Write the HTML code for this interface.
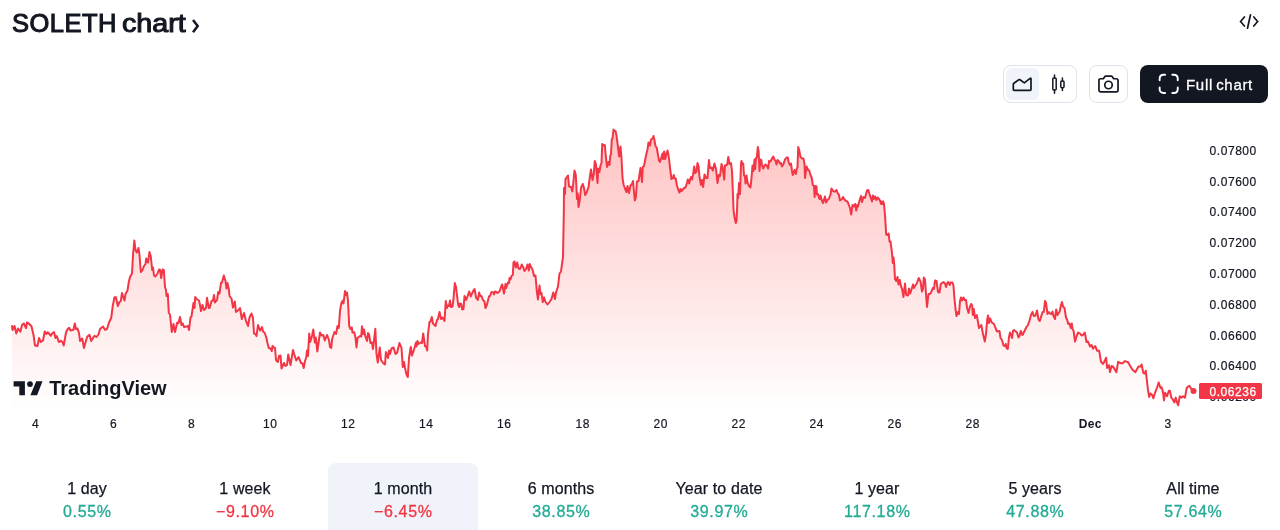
<!DOCTYPE html>
<html><head><meta charset="utf-8"><title>SOLETH chart</title>
<style>
*{box-sizing:border-box;margin:0;padding:0}
html,body{width:1280px;height:530px;background:#fff;overflow:hidden}
body{position:relative;font-family:"Liberation Sans",sans-serif;color:#131722}
.title{position:absolute;top:5.8px;will-change:transform;font-size:25.5px;font-weight:400;line-height:34px;white-space:nowrap;color:#131722;-webkit-text-stroke:1.05px #131722}
.title .t1{letter-spacing:-0.95px}
.chev{position:absolute;left:188px;top:17px}
.code{position:absolute;left:1237px;top:11px}
.grp{position:absolute;left:1003.2px;top:64.9px;width:73.9px;height:38.2px;border:1px solid #e0e3eb;border-radius:8px;background:#fff}
.grp .on{position:absolute;left:2px;top:2px;width:32.5px;height:32px;border-radius:6px;background:#f0f3fa}
.cam{position:absolute;left:1089.2px;top:64.9px;width:38.7px;height:38.3px;border:1px solid #e0e3eb;border-radius:8px;background:#fff}
.full{position:absolute;left:1139.6px;top:64.9px;width:128.7px;height:38.1px;border-radius:8px;background:#131722;color:#fff;font-size:16px;line-height:38px;white-space:nowrap}
.full span{position:absolute;left:46.6px;top:1.1px;font-size:15px;letter-spacing:0.7px;word-spacing:-1.7px;-webkit-text-stroke:0.3px #fff;will-change:transform}
svg{position:absolute;left:0;top:0;overflow:visible}
.yl{position:absolute;left:1209.6px;width:48px;height:16px;line-height:16px;font-size:12px;letter-spacing:0.55px;color:#131722;white-space:nowrap;-webkit-text-stroke:0.2px #131722}
.plab{position:absolute;left:1199.2px;top:382.9px;width:62.9px;height:16.1px;-webkit-text-stroke:0.25px #fff;border-radius:1.5px;background:#f23645;color:#fff;font-size:12px;line-height:18.2px;overflow:hidden;letter-spacing:0.55px;padding-left:10.3px;white-space:nowrap}
.xl{position:absolute;top:416px;width:60px;text-align:center;font-size:12px;line-height:16px;letter-spacing:0.7px;color:#131722;-webkit-text-stroke:0.2px #131722}
.xl.b{font-weight:700;letter-spacing:0.4px;-webkit-text-stroke:0}
.tvtxt{position:absolute;left:49.2px;top:376.4px;font-size:20px;font-weight:700;line-height:24px;letter-spacing:0px;color:#131722;white-space:nowrap}
.cell{position:absolute;top:463px;width:150px;height:80px;border-radius:8px;text-align:center}
.cell.sel{background:#f0f3fa}
.rn{position:absolute;left:0;right:0;top:14.6px;-webkit-text-stroke:0.25px #131722;font-size:16px;line-height:22px;letter-spacing:0.1px;color:#131722;white-space:nowrap}
.rv{position:absolute;left:0;right:0;top:38.4px;font-size:16px;line-height:22px;letter-spacing:0.65px;padding-left:0.6px;-webkit-text-stroke:0.3px currentColor;white-space:nowrap}
.g{color:#22ab94}.r{color:#f23645}
</style></head><body>
<div class="title" style="left:11.9px;letter-spacing:0.5px">SOLETH</div><div class="title" style="left:122.4px;transform:scaleX(1.125);transform-origin:0 0">chart</div>
<svg class="chev" width="14" height="18" viewBox="0 0 14 18"><path d="M5.0 2.9 L9.7 9.1 L5.0 15.3" fill="none" stroke="#131722" stroke-width="2.5"/></svg>
<svg class="code" width="24" height="22" viewBox="0 0 24 22"><path d="M7.4 6 L3.6 10.5 L7.4 15 M16.8 6 L20.6 10.5 L16.8 15 M13.5 3.8 L10.5 17.2" fill="none" stroke="#131722" stroke-width="1.7" stroke-linecap="round" stroke-linejoin="miter"/></svg>

<div class="grp"><div class="on"></div></div>
<svg width="28" height="28" viewBox="0 0 28 28" style="left:1008px;top:70px"><path d="M5.3 19.4 L5.3 14.4 Q5.3 13.6 5.9 13.2 L10.8 9.8 Q11.4 9.4 12 9.8 L16.3 12.9 L22.1 8.4 Q23 7.8 23 8.9 L23 19.4 Q23 20.3 22.1 20.3 L6.2 20.3 Q5.3 20.3 5.3 19.4 Z" fill="none" stroke="#131722" stroke-width="1.7" stroke-linejoin="round"/></svg>
<svg width="28" height="28" viewBox="0 0 28 28" style="left:1044px;top:70px"><g fill="none" stroke="#131722" stroke-width="1.5" stroke-linecap="round"><rect x="8.8" y="8" width="3.4" height="12" rx="1"/><path d="M10.5 5V8M10.5 20V23.2"/><rect x="16.8" y="11" width="3.2" height="6.8" rx="1"/><path d="M18.4 8V11M18.4 17.8V20.4"/></g></svg>
<div class="cam"></div>
<svg width="28" height="28" viewBox="0 0 28 28" style="left:1094px;top:70px"><g fill="none" stroke="#131722" stroke-width="1.7" stroke-linejoin="round"><path d="M4.95 10.5 Q4.95 8.75 6.7 8.75 L9.3 8.75 L10.7 6.7 Q11.1 6.15 11.8 6.15 L17.2 6.15 Q17.9 6.15 18.3 6.7 L19.7 8.75 L22.3 8.75 Q24.05 8.75 24.05 10.5 L24.05 20.1 Q24.05 21.85 22.3 21.85 L6.7 21.85 Q4.95 21.85 4.95 20.1 Z"/><circle cx="14.5" cy="15" r="3.75"/></g></svg>
<div class="full"><span>Full chart</span></div>
<svg width="28" height="28" viewBox="0 0 28 28" style="left:1154px;top:70px"><path d="M5.65 10.2 V8.75 Q5.65 4.75 9.65 4.75 H11.1 M18.3 4.75 H19.75 Q23.75 4.75 23.75 8.75 V10.2 M23.75 17.5 V18.95 Q23.75 22.95 19.75 22.95 H18.3 M11.1 22.95 H9.65 Q5.65 22.95 5.65 18.95 V17.5" fill="none" stroke="#fff" stroke-width="1.9" stroke-linecap="round"/></svg>

<svg width="1280" height="530" viewBox="0 0 1280 530">
<defs><linearGradient id="gr" gradientUnits="userSpaceOnUse" x1="0" y1="120" x2="0" y2="412"><stop offset="0" stop-color="#ff3b3b" stop-opacity="0.32"/><stop offset="1" stop-color="#ff3b3b" stop-opacity="0"/></linearGradient></defs>
<path d="M12 326 L12.5 330 L14.5 326 L16.3 333.5 L18 328.5 L20.3 331.8 L22.2 324.5 L23.8 323.5 L26 328 L27 322.5 L28.5 323.2 L31.5 326.2 L33.5 335 L35 345.5 L37.5 346 L39 338 L40.8 342 L43 340.5 L44.8 331.5 L46.5 334 L47.8 332.2 L50.8 335.8 L52 333.5 L54 332 L55.5 338 L56.8 336 L58.8 342 L61 340.8 L62.5 342 L63.7 345.5 L66 332.5 L68 328.5 L69.2 327.8 L70.5 330.5 L73.5 329.8 L74.8 323.5 L76 329 L77.5 328.5 L79 333 L80 341 L82.2 338.5 L84 348 L85.5 342.5 L87.2 336.8 L89.5 334.8 L91.2 341 L93 338 L94.5 335.8 L96.5 337 L98.5 334.5 L100 329 L103 326.5 L105 329.8 L107 329 L109 322.5 L111.2 318 L112.8 305.5 L114.5 297.2 L116 297.2 L117.8 306 L119.5 302 L120.8 301 L122 293 L123.2 297 L124.5 300.5 L125.5 294 L127.5 290.5 L128.8 282 L130 277 L132 273.5 L133 255 L134.3 240.5 L135.5 250 L136.8 252.5 L138.5 248 L139.5 255 L140.8 272 L142.5 270 L144 266 L145.5 264 L146.2 258.5 L148 262.5 L149.5 252 L150.8 256.5 L152.2 270 L153 267.5 L154 275.5 L155.5 276.5 L157.5 273.5 L159 269.5 L160 270 L161.2 278 L162.5 269.5 L163.8 270 L165 287 L166 290 L166.5 296 L167.8 294 L168.8 313 L170 314.5 L171.8 332 L173.5 324 L175 332 L177.2 322.5 L178.5 323 L180 317 L181.5 325 L182.8 323.5 L184 327 L186.5 326.5 L188 326 L189 330 L190.5 317.5 L191.5 316.5 L193.5 303 L194.5 308 L195.2 297 L197.2 299.5 L199 300.5 L200 305 L201 311 L202.5 305 L204 310 L206 308 L207 297.8 L208.8 308 L209.8 307.5 L211.5 301 L213 300.5 L214 295 L215 302.5 L217 300 L218.2 292 L219.5 293.5 L221 283 L222 282.5 L223.8 275.5 L225.5 281 L226.5 288.5 L227.5 283 L229 290 L229.5 296 L231.5 298.5 L233 307.5 L234.8 301.5 L236 312 L238.5 310 L240 308 L241.8 319 L244 313 L246 321 L248 326 L249.5 317.5 L251.5 313.5 L253 318 L254 333.5 L255.5 334 L256.5 336 L258 325 L260 330.5 L262 327 L263 331.5 L264.5 332.5 L266.2 337 L267.5 343 L268.8 348 L270.5 348.5 L271.8 351 L272.5 346 L274 347.5 L275 348 L276 360 L277.8 362 L279 356 L280.5 355.5 L281.5 368.5 L284 363 L285.5 366 L287 365 L288.2 354.5 L290.5 365 L293 350 L294.5 355 L296.2 360.5 L298.5 357 L301 363 L302.5 363.5 L303.7 368 L305 361 L306.2 357.5 L307 350.5 L308 356 L309.2 333.5 L310.2 342 L312 336 L313.3 329.5 L314.8 342.5 L315.8 337.5 L317.3 351.5 L318.5 343 L320 332.5 L321.5 335.5 L323.3 335 L324.8 340.5 L327 335 L329 340 L330 347 L331.3 348 L332.2 338.5 L334.5 332 L336 334 L337.5 326 L338.8 328 L340 311 L341.5 302.5 L342.8 300.5 L343.5 303.5 L345 291 L345.8 295 L347 292.5 L348 301 L349.2 326 L350.5 329 L351.8 327.5 L352.5 332.5 L354.2 332.3 L355.5 337.5 L356.5 347.5 L357.5 338 L360 336 L361.2 336.5 L362 326.3 L363 334 L364 329.5 L365.3 336 L367 341 L368 333 L369 334.5 L370.5 343 L372 342.5 L373 349 L374 340.5 L375.3 328.8 L376.5 354 L377.8 362.5 L379.8 347.5 L381 360 L383.5 363.5 L385 364.5 L385.9 352 L388 358 L389 350.5 L390 354 L391.5 348.5 L393.5 347.5 L395.5 354 L397 353 L399.5 343 L401.5 348 L402.8 367 L404 362 L405 368 L406.5 374.5 L407.8 377 L409 358 L410.8 347 L412 355.5 L414 349.5 L416 342.5 L416.5 346.5 L417.5 341 L418.5 344 L420.5 342.5 L422 343 L423.2 333.5 L425 346 L426 346.5 L427.2 350.5 L428 334 L429.5 322 L430.5 321.5 L431.8 317 L433 323.5 L435.5 326 L437 320 L438 319 L439.5 312 L441 319 L442.5 317.5 L444.5 321 L445.8 301 L446.8 308 L448 305.5 L449 306 L450 300.5 L451 307 L452.5 306.5 L453.5 299 L454.8 283 L456 287 L457.2 297 L458.2 305 L459.2 307 L460 303.5 L461.2 304 L462.2 309.5 L463.5 309 L464.5 296 L466.2 300 L467.8 295.5 L469.2 291.5 L470.8 296.5 L472 293.5 L473.5 290.5 L474.5 289 L476.2 298 L477.8 300 L479.2 292.5 L480.2 296 L481.5 296 L483 300 L484.5 301.5 L485.5 308 L487 304.5 L489 296.5 L490 296 L491.5 292 L493.5 292.5 L494 294.5 L495 291.5 L496.5 292 L497.5 293 L499.5 291.5 L501 287 L502.2 284.5 L504 293.5 L505.5 284 L506.2 288 L508 282.5 L509 283 L509.5 278 L510.5 279.5 L511.5 276 L512.8 275 L513.5 262.5 L514.5 261.5 L515.8 267.5 L517.2 262.5 L518.5 268.5 L520 269 L521.8 264.5 L523.5 268 L524.5 271 L526 269 L527.5 264.5 L528.8 270.5 L529.8 264 L531 267 L532.5 269.5 L534 276 L535.5 275.5 L536.8 291 L538 299.5 L539.5 285.5 L540.5 294 L541.5 293 L542.8 302 L544 297.5 L545.5 302 L547.5 304.5 L549.5 302 L551.5 299 L553.3 292.5 L555 299 L556 292.5 L558 286.5 L559.5 273.5 L561 271.5 L562 264 L563 257 L563.8 213 L564 188 L565 194 L565.5 179 L568 175.5 L569 186.5 L571 187 L572.3 191.5 L573.2 184 L574.5 170.5 L575.8 175 L577 199 L577.8 193.5 L578.5 207 L579.8 200 L581 188 L582.8 184 L584 188 L585.2 195 L586.8 192 L588.5 187 L590 176 L591 169.5 L592.5 180 L593.8 174 L594.8 161 L596 164.5 L597.5 183 L598.2 168.5 L599.4 172 L600.5 165.5 L601.5 163 L602.2 144 L603.5 145.5 L604.8 145 L605.8 156 L607 167 L608.5 162 L609.5 165 L610.3 155.5 L611 154.5 L611.8 139 L612.5 138.5 L613.5 129.5 L614.5 131 L615.5 131 L616.5 135.5 L618 147 L619.2 156.5 L620.5 146.5 L621.5 158 L622.5 178 L623.5 184.5 L625 188.5 L626.5 192 L627.5 186 L629 193 L630.5 185.5 L632 184 L633 181 L634.8 200.5 L635.8 197.5 L637 181.5 L638.5 181 L640.5 168 L642 182 L642.8 167 L644 166 L646 155.5 L647.5 149.5 L648.5 142.5 L650 145.5 L651 139.5 L652.5 138.5 L653.5 136 L654.5 140.5 L655.5 146 L656.8 148 L658 155 L659 160.5 L660 162 L661.5 157 L662.5 153.5 L663.2 159 L664.2 151.5 L665.2 159 L666.2 155 L667.5 150.5 L668.5 155 L669.5 163 L670.5 172 L671.5 179 L673 178 L673.8 175 L674.5 178.5 L675.8 178.5 L676.8 185 L678 189 L679.5 192.5 L680.5 189 L681.5 191 L684 188 L685.5 187.5 L687 183 L687.8 179.5 L689.2 183.5 L690 179.5 L691 177 L692 179.5 L693 175 L694.2 166.5 L695.2 173 L696.5 171.5 L697.5 163 L698.5 166 L699.5 177 L701 185 L702 180 L703.2 187 L704.5 174.5 L706 178 L707.5 178 L708.2 169 L709 160 L709.8 168 L711.5 167.5 L712.8 170.5 L714.5 163.5 L716 169 L717.5 183 L718.8 175 L720 176 L721.5 164 L722.5 166.5 L724.2 179.5 L725 165.5 L726.8 165 L727.5 162.5 L728.3 157 L729.5 164 L731 163 L732 171 L733 195 L733.5 210 L734.5 217 L735.8 223 L736.5 221 L737.2 206 L737.5 194 L738.2 198 L739 183 L740 194 L741 164 L741.5 161 L742.5 164 L743.2 163.5 L744 175 L745 177 L745.5 183.5 L746.5 175.5 L747.5 182.5 L749 186 L750.5 187.5 L751.5 178 L752.5 165.5 L753.5 171 L754.5 159.5 L755.2 169 L756 158 L756.8 157.5 L757.8 147 L758.6 151 L759.5 171 L760.5 159.5 L761.3 160 L762 165 L763.2 168.5 L764.5 165.5 L765.5 164.5 L767 166 L768.2 168.5 L769 161 L770.5 161.5 L772 158.5 L773.2 156.5 L774.5 159.5 L775.5 161 L776.5 164.5 L777.5 160 L779 161.5 L780 163.5 L781 163 L782 166.5 L783.5 164 L785 159.5 L786.5 157.5 L787.8 157.5 L788.5 161.5 L789.8 165 L791 163.5 L792 171 L792.8 175 L794.5 170 L795.8 174 L796.8 168.5 L797.5 167.5 L798.2 147 L799.2 150 L800.5 157 L802 158.5 L803.5 158.5 L804.5 164 L805 178 L806.5 166.5 L808 170 L809.2 170.5 L810.5 175 L811.8 178 L812.8 185 L814 186 L814.6 197 L815.5 186 L816.5 186.5 L816.9 194.5 L818 194 L819.5 199 L820.5 195.5 L821.5 199.5 L823 203 L825 196.5 L826 202.5 L827.5 200 L829 198.5 L830.5 194.5 L831.5 188.5 L833.5 191.5 L835 191.5 L836.5 190 L837.8 193.5 L838.8 194.5 L840 200.5 L842 199 L843 197 L844.5 199.5 L846 201 L847.5 201.5 L849 205.5 L850 208 L851.2 214.5 L852.5 205 L854 206.5 L855.3 204 L856.2 210.5 L857.5 205 L858 206.5 L859.5 200.5 L861 196 L862 202 L863.5 197 L865 198 L865.5 196 L867 190.5 L868.3 190 L869.5 194 L871 198.5 L872 201.5 L873 195.5 L874 199 L875 196.5 L876.5 200 L877.5 197.5 L879 199 L880 200.5 L881 204 L881.8 201.5 L882.5 204 L883.2 201.5 L884 204 L885 215 L886.2 234.5 L887.5 235 L888.7 233.5 L889.5 241.5 L890.5 241.5 L892 253 L892.8 263 L893.5 257.5 L894.2 264 L895 279 L896.2 281 L897.5 277 L898.5 284.5 L899.8 280 L901 286.5 L902 288.5 L903.5 297 L905 283.5 L906.2 295 L908 295.5 L909 288.5 L910.2 293.5 L911.5 289.5 L913 284.5 L914 288 L915 286 L917 283 L918.7 278 L920.5 281.5 L922 291.5 L923 289 L923.8 277.5 L925 279.5 L926 294 L927 307 L928.5 294 L930 294 L931.5 291.5 L932.8 288 L934 289 L935 280.5 L936.5 281 L938 292 L939.5 292.5 L940.8 284 L942 283 L943.5 282 L945 283.5 L946 287 L947.2 283.5 L948 282 L949.8 285 L950.5 282.5 L952.5 282.5 L953.5 286 L954.5 299 L955.5 309 L956.5 316 L958 312 L959 314 L960 301 L961 297.5 L962 300.5 L963.5 297.5 L964.7 300 L966 300 L967 307.5 L968.5 313 L970 306.5 L971.2 304 L972.2 306 L972.8 315 L973.8 309 L975 318 L976.8 315 L978 322 L979 328 L981.3 325 L983 334 L984.8 341.5 L986 334 L987.2 320 L988 315.5 L989 323 L990.2 318.5 L991.8 322.5 L994 324 L995.5 328 L997 331.5 L999.5 331 L1000.5 338 L1002 340 L1003.5 345.5 L1005 346 L1005.8 344 L1006.5 348 L1007.8 349 L1009 337 L1010 332.5 L1011 335 L1012 338 L1013 331 L1014 330 L1015.8 331.5 L1017 332.5 L1018.5 337.5 L1019.5 336 L1020.7 331 L1022.5 335 L1024.5 331 L1026.5 327 L1028 325 L1029.5 320.5 L1031 315 L1032.5 312 L1033.8 316 L1035.5 315.5 L1037 310.5 L1038.5 319.5 L1039.8 321 L1041 317 L1042.5 312 L1043.8 312 L1045 301 L1046 303 L1047.5 314 L1049 312 L1050 313.5 L1051.5 314 L1052.5 311.5 L1053.5 316 L1055 319 L1056.2 309.5 L1057.5 315 L1059.5 312 L1061 305 L1062 302 L1063 306.5 L1064.5 308 L1066 317.5 L1067.2 320 L1068.2 324 L1069.5 323.5 L1070.8 328 L1071.8 323.5 L1072.5 329 L1073.5 330.5 L1075 341.5 L1076.5 336.5 L1078.2 332.5 L1080 333.5 L1081.5 335.5 L1083 335 L1084.8 332.5 L1086.5 342 L1088 341.5 L1090 346.5 L1091.5 345 L1093 348.7 L1095.1 346 L1097.2 350.8 L1099.2 350.8 L1101 361.8 L1102.9 363.9 L1104.7 361.1 L1106.1 357.7 L1107.1 368 L1108.9 365.2 L1110 372.1 L1111.6 365.9 L1113 366.6 L1116.4 372.1 L1118.1 361.8 L1120.6 363.2 L1122.6 363.2 L1125 361.1 L1128.1 362.2 L1130.2 365.9 L1132.7 370 L1135.4 372.1 L1138.5 366.6 L1140.5 366.6 L1141.6 364.5 L1143.3 372.8 L1144.7 373.5 L1145.8 370.7 L1146.7 379 L1148.1 390.7 L1149.1 396.9 L1150.5 393.5 L1152.2 394.9 L1153.4 398.3 L1155 392.8 L1157.1 387.3 L1158.7 382.5 L1160.5 388 L1161.6 387.3 L1163 392.1 L1164 400.4 L1165.1 392.8 L1167.1 396.2 L1168.8 390.7 L1169.9 390.7 L1171.3 397.6 L1172.9 399.7 L1174.3 402.4 L1175.7 397.6 L1176.8 401.7 L1178.1 405.2 L1179.8 396.2 L1181.4 397.6 L1183.2 396.2 L1185 397.6 L1186.7 388 L1188.1 386.6 L1189.4 385.9 L1190.8 388 L1192.2 390 L1193.5 391 L1193.5 406.6 L12 406.6 Z" fill="url(#gr)" stroke="none"/>
<path d="M12 326 L12.5 330 L14.5 326 L16.3 333.5 L18 328.5 L20.3 331.8 L22.2 324.5 L23.8 323.5 L26 328 L27 322.5 L28.5 323.2 L31.5 326.2 L33.5 335 L35 345.5 L37.5 346 L39 338 L40.8 342 L43 340.5 L44.8 331.5 L46.5 334 L47.8 332.2 L50.8 335.8 L52 333.5 L54 332 L55.5 338 L56.8 336 L58.8 342 L61 340.8 L62.5 342 L63.7 345.5 L66 332.5 L68 328.5 L69.2 327.8 L70.5 330.5 L73.5 329.8 L74.8 323.5 L76 329 L77.5 328.5 L79 333 L80 341 L82.2 338.5 L84 348 L85.5 342.5 L87.2 336.8 L89.5 334.8 L91.2 341 L93 338 L94.5 335.8 L96.5 337 L98.5 334.5 L100 329 L103 326.5 L105 329.8 L107 329 L109 322.5 L111.2 318 L112.8 305.5 L114.5 297.2 L116 297.2 L117.8 306 L119.5 302 L120.8 301 L122 293 L123.2 297 L124.5 300.5 L125.5 294 L127.5 290.5 L128.8 282 L130 277 L132 273.5 L133 255 L134.3 240.5 L135.5 250 L136.8 252.5 L138.5 248 L139.5 255 L140.8 272 L142.5 270 L144 266 L145.5 264 L146.2 258.5 L148 262.5 L149.5 252 L150.8 256.5 L152.2 270 L153 267.5 L154 275.5 L155.5 276.5 L157.5 273.5 L159 269.5 L160 270 L161.2 278 L162.5 269.5 L163.8 270 L165 287 L166 290 L166.5 296 L167.8 294 L168.8 313 L170 314.5 L171.8 332 L173.5 324 L175 332 L177.2 322.5 L178.5 323 L180 317 L181.5 325 L182.8 323.5 L184 327 L186.5 326.5 L188 326 L189 330 L190.5 317.5 L191.5 316.5 L193.5 303 L194.5 308 L195.2 297 L197.2 299.5 L199 300.5 L200 305 L201 311 L202.5 305 L204 310 L206 308 L207 297.8 L208.8 308 L209.8 307.5 L211.5 301 L213 300.5 L214 295 L215 302.5 L217 300 L218.2 292 L219.5 293.5 L221 283 L222 282.5 L223.8 275.5 L225.5 281 L226.5 288.5 L227.5 283 L229 290 L229.5 296 L231.5 298.5 L233 307.5 L234.8 301.5 L236 312 L238.5 310 L240 308 L241.8 319 L244 313 L246 321 L248 326 L249.5 317.5 L251.5 313.5 L253 318 L254 333.5 L255.5 334 L256.5 336 L258 325 L260 330.5 L262 327 L263 331.5 L264.5 332.5 L266.2 337 L267.5 343 L268.8 348 L270.5 348.5 L271.8 351 L272.5 346 L274 347.5 L275 348 L276 360 L277.8 362 L279 356 L280.5 355.5 L281.5 368.5 L284 363 L285.5 366 L287 365 L288.2 354.5 L290.5 365 L293 350 L294.5 355 L296.2 360.5 L298.5 357 L301 363 L302.5 363.5 L303.7 368 L305 361 L306.2 357.5 L307 350.5 L308 356 L309.2 333.5 L310.2 342 L312 336 L313.3 329.5 L314.8 342.5 L315.8 337.5 L317.3 351.5 L318.5 343 L320 332.5 L321.5 335.5 L323.3 335 L324.8 340.5 L327 335 L329 340 L330 347 L331.3 348 L332.2 338.5 L334.5 332 L336 334 L337.5 326 L338.8 328 L340 311 L341.5 302.5 L342.8 300.5 L343.5 303.5 L345 291 L345.8 295 L347 292.5 L348 301 L349.2 326 L350.5 329 L351.8 327.5 L352.5 332.5 L354.2 332.3 L355.5 337.5 L356.5 347.5 L357.5 338 L360 336 L361.2 336.5 L362 326.3 L363 334 L364 329.5 L365.3 336 L367 341 L368 333 L369 334.5 L370.5 343 L372 342.5 L373 349 L374 340.5 L375.3 328.8 L376.5 354 L377.8 362.5 L379.8 347.5 L381 360 L383.5 363.5 L385 364.5 L385.9 352 L388 358 L389 350.5 L390 354 L391.5 348.5 L393.5 347.5 L395.5 354 L397 353 L399.5 343 L401.5 348 L402.8 367 L404 362 L405 368 L406.5 374.5 L407.8 377 L409 358 L410.8 347 L412 355.5 L414 349.5 L416 342.5 L416.5 346.5 L417.5 341 L418.5 344 L420.5 342.5 L422 343 L423.2 333.5 L425 346 L426 346.5 L427.2 350.5 L428 334 L429.5 322 L430.5 321.5 L431.8 317 L433 323.5 L435.5 326 L437 320 L438 319 L439.5 312 L441 319 L442.5 317.5 L444.5 321 L445.8 301 L446.8 308 L448 305.5 L449 306 L450 300.5 L451 307 L452.5 306.5 L453.5 299 L454.8 283 L456 287 L457.2 297 L458.2 305 L459.2 307 L460 303.5 L461.2 304 L462.2 309.5 L463.5 309 L464.5 296 L466.2 300 L467.8 295.5 L469.2 291.5 L470.8 296.5 L472 293.5 L473.5 290.5 L474.5 289 L476.2 298 L477.8 300 L479.2 292.5 L480.2 296 L481.5 296 L483 300 L484.5 301.5 L485.5 308 L487 304.5 L489 296.5 L490 296 L491.5 292 L493.5 292.5 L494 294.5 L495 291.5 L496.5 292 L497.5 293 L499.5 291.5 L501 287 L502.2 284.5 L504 293.5 L505.5 284 L506.2 288 L508 282.5 L509 283 L509.5 278 L510.5 279.5 L511.5 276 L512.8 275 L513.5 262.5 L514.5 261.5 L515.8 267.5 L517.2 262.5 L518.5 268.5 L520 269 L521.8 264.5 L523.5 268 L524.5 271 L526 269 L527.5 264.5 L528.8 270.5 L529.8 264 L531 267 L532.5 269.5 L534 276 L535.5 275.5 L536.8 291 L538 299.5 L539.5 285.5 L540.5 294 L541.5 293 L542.8 302 L544 297.5 L545.5 302 L547.5 304.5 L549.5 302 L551.5 299 L553.3 292.5 L555 299 L556 292.5 L558 286.5 L559.5 273.5 L561 271.5 L562 264 L563 257 L563.8 213 L564 188 L565 194 L565.5 179 L568 175.5 L569 186.5 L571 187 L572.3 191.5 L573.2 184 L574.5 170.5 L575.8 175 L577 199 L577.8 193.5 L578.5 207 L579.8 200 L581 188 L582.8 184 L584 188 L585.2 195 L586.8 192 L588.5 187 L590 176 L591 169.5 L592.5 180 L593.8 174 L594.8 161 L596 164.5 L597.5 183 L598.2 168.5 L599.4 172 L600.5 165.5 L601.5 163 L602.2 144 L603.5 145.5 L604.8 145 L605.8 156 L607 167 L608.5 162 L609.5 165 L610.3 155.5 L611 154.5 L611.8 139 L612.5 138.5 L613.5 129.5 L614.5 131 L615.5 131 L616.5 135.5 L618 147 L619.2 156.5 L620.5 146.5 L621.5 158 L622.5 178 L623.5 184.5 L625 188.5 L626.5 192 L627.5 186 L629 193 L630.5 185.5 L632 184 L633 181 L634.8 200.5 L635.8 197.5 L637 181.5 L638.5 181 L640.5 168 L642 182 L642.8 167 L644 166 L646 155.5 L647.5 149.5 L648.5 142.5 L650 145.5 L651 139.5 L652.5 138.5 L653.5 136 L654.5 140.5 L655.5 146 L656.8 148 L658 155 L659 160.5 L660 162 L661.5 157 L662.5 153.5 L663.2 159 L664.2 151.5 L665.2 159 L666.2 155 L667.5 150.5 L668.5 155 L669.5 163 L670.5 172 L671.5 179 L673 178 L673.8 175 L674.5 178.5 L675.8 178.5 L676.8 185 L678 189 L679.5 192.5 L680.5 189 L681.5 191 L684 188 L685.5 187.5 L687 183 L687.8 179.5 L689.2 183.5 L690 179.5 L691 177 L692 179.5 L693 175 L694.2 166.5 L695.2 173 L696.5 171.5 L697.5 163 L698.5 166 L699.5 177 L701 185 L702 180 L703.2 187 L704.5 174.5 L706 178 L707.5 178 L708.2 169 L709 160 L709.8 168 L711.5 167.5 L712.8 170.5 L714.5 163.5 L716 169 L717.5 183 L718.8 175 L720 176 L721.5 164 L722.5 166.5 L724.2 179.5 L725 165.5 L726.8 165 L727.5 162.5 L728.3 157 L729.5 164 L731 163 L732 171 L733 195 L733.5 210 L734.5 217 L735.8 223 L736.5 221 L737.2 206 L737.5 194 L738.2 198 L739 183 L740 194 L741 164 L741.5 161 L742.5 164 L743.2 163.5 L744 175 L745 177 L745.5 183.5 L746.5 175.5 L747.5 182.5 L749 186 L750.5 187.5 L751.5 178 L752.5 165.5 L753.5 171 L754.5 159.5 L755.2 169 L756 158 L756.8 157.5 L757.8 147 L758.6 151 L759.5 171 L760.5 159.5 L761.3 160 L762 165 L763.2 168.5 L764.5 165.5 L765.5 164.5 L767 166 L768.2 168.5 L769 161 L770.5 161.5 L772 158.5 L773.2 156.5 L774.5 159.5 L775.5 161 L776.5 164.5 L777.5 160 L779 161.5 L780 163.5 L781 163 L782 166.5 L783.5 164 L785 159.5 L786.5 157.5 L787.8 157.5 L788.5 161.5 L789.8 165 L791 163.5 L792 171 L792.8 175 L794.5 170 L795.8 174 L796.8 168.5 L797.5 167.5 L798.2 147 L799.2 150 L800.5 157 L802 158.5 L803.5 158.5 L804.5 164 L805 178 L806.5 166.5 L808 170 L809.2 170.5 L810.5 175 L811.8 178 L812.8 185 L814 186 L814.6 197 L815.5 186 L816.5 186.5 L816.9 194.5 L818 194 L819.5 199 L820.5 195.5 L821.5 199.5 L823 203 L825 196.5 L826 202.5 L827.5 200 L829 198.5 L830.5 194.5 L831.5 188.5 L833.5 191.5 L835 191.5 L836.5 190 L837.8 193.5 L838.8 194.5 L840 200.5 L842 199 L843 197 L844.5 199.5 L846 201 L847.5 201.5 L849 205.5 L850 208 L851.2 214.5 L852.5 205 L854 206.5 L855.3 204 L856.2 210.5 L857.5 205 L858 206.5 L859.5 200.5 L861 196 L862 202 L863.5 197 L865 198 L865.5 196 L867 190.5 L868.3 190 L869.5 194 L871 198.5 L872 201.5 L873 195.5 L874 199 L875 196.5 L876.5 200 L877.5 197.5 L879 199 L880 200.5 L881 204 L881.8 201.5 L882.5 204 L883.2 201.5 L884 204 L885 215 L886.2 234.5 L887.5 235 L888.7 233.5 L889.5 241.5 L890.5 241.5 L892 253 L892.8 263 L893.5 257.5 L894.2 264 L895 279 L896.2 281 L897.5 277 L898.5 284.5 L899.8 280 L901 286.5 L902 288.5 L903.5 297 L905 283.5 L906.2 295 L908 295.5 L909 288.5 L910.2 293.5 L911.5 289.5 L913 284.5 L914 288 L915 286 L917 283 L918.7 278 L920.5 281.5 L922 291.5 L923 289 L923.8 277.5 L925 279.5 L926 294 L927 307 L928.5 294 L930 294 L931.5 291.5 L932.8 288 L934 289 L935 280.5 L936.5 281 L938 292 L939.5 292.5 L940.8 284 L942 283 L943.5 282 L945 283.5 L946 287 L947.2 283.5 L948 282 L949.8 285 L950.5 282.5 L952.5 282.5 L953.5 286 L954.5 299 L955.5 309 L956.5 316 L958 312 L959 314 L960 301 L961 297.5 L962 300.5 L963.5 297.5 L964.7 300 L966 300 L967 307.5 L968.5 313 L970 306.5 L971.2 304 L972.2 306 L972.8 315 L973.8 309 L975 318 L976.8 315 L978 322 L979 328 L981.3 325 L983 334 L984.8 341.5 L986 334 L987.2 320 L988 315.5 L989 323 L990.2 318.5 L991.8 322.5 L994 324 L995.5 328 L997 331.5 L999.5 331 L1000.5 338 L1002 340 L1003.5 345.5 L1005 346 L1005.8 344 L1006.5 348 L1007.8 349 L1009 337 L1010 332.5 L1011 335 L1012 338 L1013 331 L1014 330 L1015.8 331.5 L1017 332.5 L1018.5 337.5 L1019.5 336 L1020.7 331 L1022.5 335 L1024.5 331 L1026.5 327 L1028 325 L1029.5 320.5 L1031 315 L1032.5 312 L1033.8 316 L1035.5 315.5 L1037 310.5 L1038.5 319.5 L1039.8 321 L1041 317 L1042.5 312 L1043.8 312 L1045 301 L1046 303 L1047.5 314 L1049 312 L1050 313.5 L1051.5 314 L1052.5 311.5 L1053.5 316 L1055 319 L1056.2 309.5 L1057.5 315 L1059.5 312 L1061 305 L1062 302 L1063 306.5 L1064.5 308 L1066 317.5 L1067.2 320 L1068.2 324 L1069.5 323.5 L1070.8 328 L1071.8 323.5 L1072.5 329 L1073.5 330.5 L1075 341.5 L1076.5 336.5 L1078.2 332.5 L1080 333.5 L1081.5 335.5 L1083 335 L1084.8 332.5 L1086.5 342 L1088 341.5 L1090 346.5 L1091.5 345 L1093 348.7 L1095.1 346 L1097.2 350.8 L1099.2 350.8 L1101 361.8 L1102.9 363.9 L1104.7 361.1 L1106.1 357.7 L1107.1 368 L1108.9 365.2 L1110 372.1 L1111.6 365.9 L1113 366.6 L1116.4 372.1 L1118.1 361.8 L1120.6 363.2 L1122.6 363.2 L1125 361.1 L1128.1 362.2 L1130.2 365.9 L1132.7 370 L1135.4 372.1 L1138.5 366.6 L1140.5 366.6 L1141.6 364.5 L1143.3 372.8 L1144.7 373.5 L1145.8 370.7 L1146.7 379 L1148.1 390.7 L1149.1 396.9 L1150.5 393.5 L1152.2 394.9 L1153.4 398.3 L1155 392.8 L1157.1 387.3 L1158.7 382.5 L1160.5 388 L1161.6 387.3 L1163 392.1 L1164 400.4 L1165.1 392.8 L1167.1 396.2 L1168.8 390.7 L1169.9 390.7 L1171.3 397.6 L1172.9 399.7 L1174.3 402.4 L1175.7 397.6 L1176.8 401.7 L1178.1 405.2 L1179.8 396.2 L1181.4 397.6 L1183.2 396.2 L1185 397.6 L1186.7 388 L1188.1 386.6 L1189.4 385.9 L1190.8 388 L1192.2 390 L1193.5 391" fill="none" stroke="#f23645" stroke-width="2" stroke-linejoin="round" stroke-linecap="round"/>
<circle cx="1193.5" cy="391" r="3" fill="#f23645"/>
<g fill="#131722"><path d="M24.9 395.3 H19.3 V386.6 H13.6 V381.2 H24.9 Z"/><circle cx="30" cy="384.1" r="2.9"/><path d="M37.1 395.3 H30.4 L36.2 381.2 H42.5 Z"/></g>
</svg>
<div class="tvtxt">TradingView</div>
<div class="yl" style="top:142.80px">0.07800</div>
<div class="yl" style="top:173.60px">0.07600</div>
<div class="yl" style="top:204.40px">0.07400</div>
<div class="yl" style="top:235.20px">0.07200</div>
<div class="yl" style="top:266.00px">0.07000</div>
<div class="yl" style="top:296.80px">0.06800</div>
<div class="yl" style="top:327.60px">0.06600</div>
<div class="yl" style="top:358.40px">0.06400</div>
<div class="yl" style="top:389.20px">0.06200</div>
<div class="plab">0.06236</div>
<div class="xl" style="left:5.8px">4</div>
<div class="xl" style="left:83.8px">6</div>
<div class="xl" style="left:161.8px">8</div>
<div class="xl" style="left:240.3px">10</div>
<div class="xl" style="left:318.3px">12</div>
<div class="xl" style="left:396.3px">14</div>
<div class="xl" style="left:474.3px">16</div>
<div class="xl" style="left:552.8px">18</div>
<div class="xl" style="left:630.8px">20</div>
<div class="xl" style="left:708.8px">22</div>
<div class="xl" style="left:786.8px">24</div>
<div class="xl" style="left:864.8px">26</div>
<div class="xl" style="left:942.8px">28</div>
<div class="xl" style="left:1138.3px">3</div>
<div class="xl b" style="left:1060.3px">Dec</div>
<div class="cell" style="left:12px"><div class="rn">1 day</div><div class="rv g">0.55%</div></div>
<div class="cell" style="left:170px"><div class="rn">1 week</div><div class="rv r">−9.10%</div></div>
<div class="cell sel" style="left:328px"><div class="rn">1 month</div><div class="rv r">−6.45%</div></div>
<div class="cell" style="left:486px"><div class="rn">6 months</div><div class="rv g">38.85%</div></div>
<div class="cell" style="left:644px"><div class="rn">Year to date</div><div class="rv g">39.97%</div></div>
<div class="cell" style="left:802px"><div class="rn">1 year</div><div class="rv g">117.18%</div></div>
<div class="cell" style="left:960px"><div class="rn">5 years</div><div class="rv g">47.88%</div></div>
<div class="cell" style="left:1118px"><div class="rn">All time</div><div class="rv g">57.64%</div></div>
</body></html>
